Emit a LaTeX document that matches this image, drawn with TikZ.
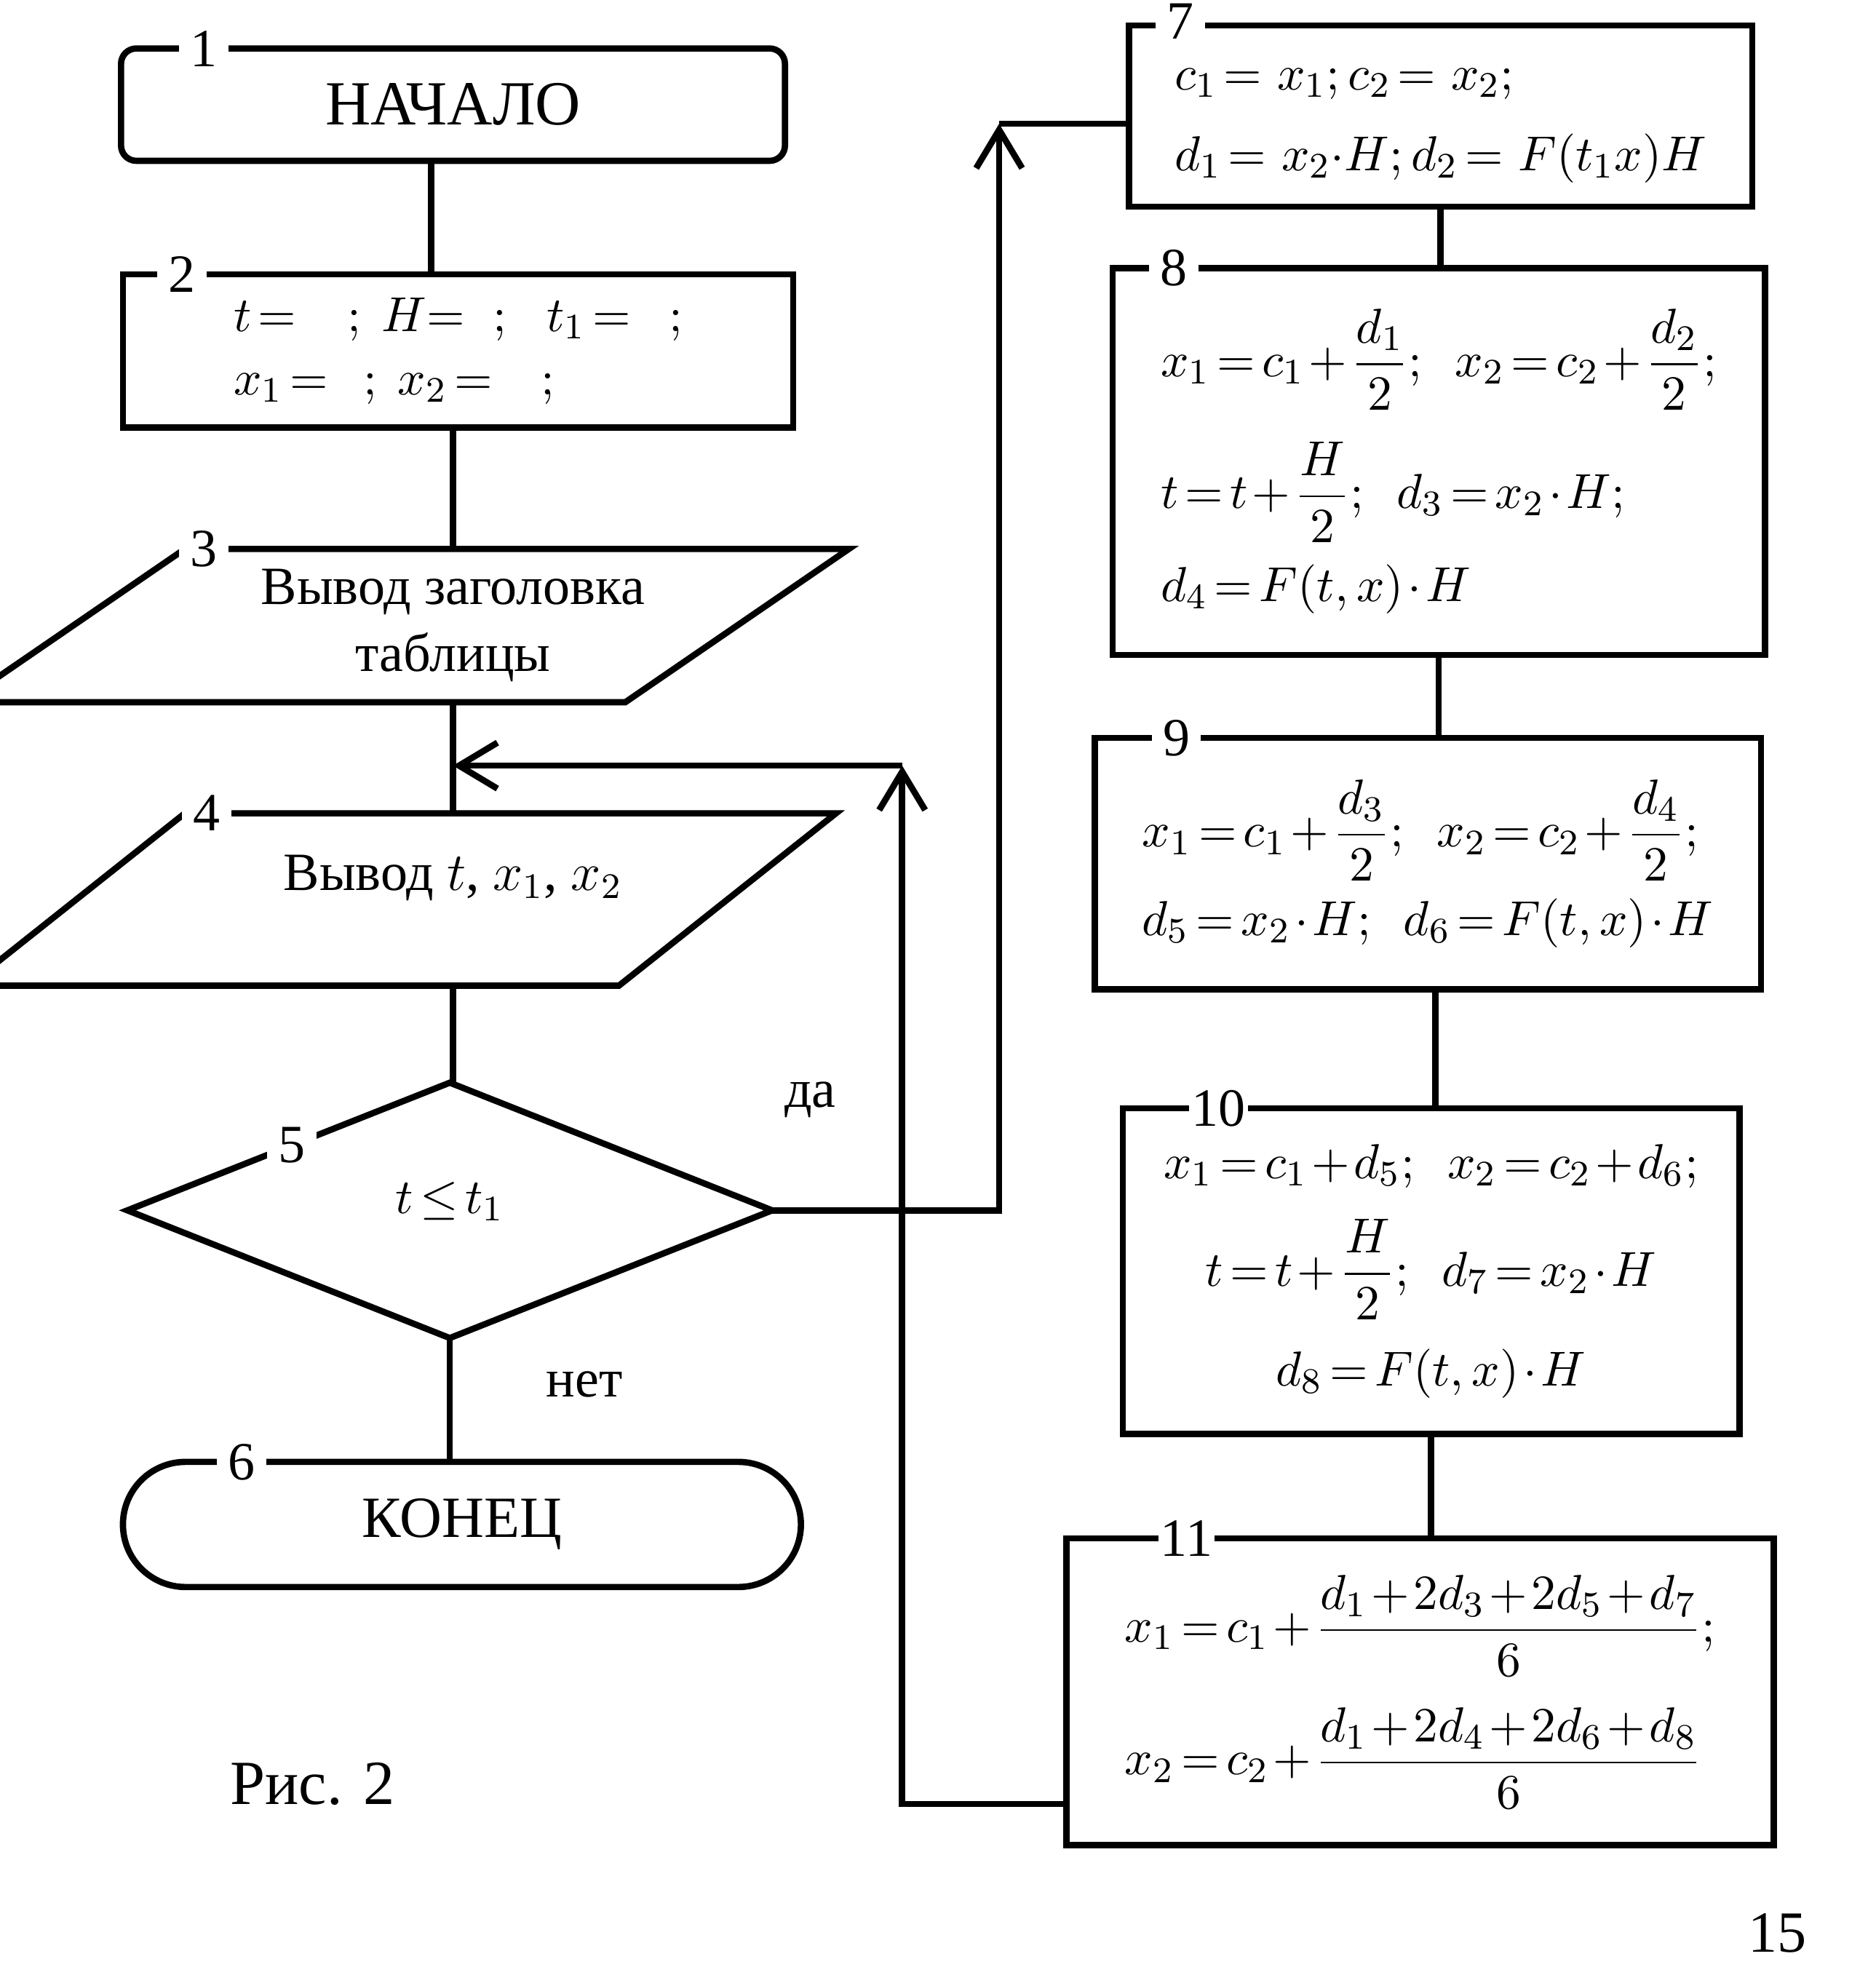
\documentclass[tikz,border=0pt]{standalone}
\usepackage{amsmath}
\usepackage{fontspec}
\setmainfont{Liberation Serif}
\usetikzlibrary{arrows.meta,positioning,shapes.geometric,calc}
\newcommand\boxfont{\fontsize{11}{13}\selectfont}
\thickmuskip=2.5mu plus 1mu
\medmuskip=1.5mu plus 1mu

\begin{document}
\begin{tikzpicture}[x=0.01cm,y=-0.01cm,line width=1.4pt,outer sep=0pt,>={Straight Barb[length=3mm,width=3.6mm]},node distance=1cm]
  \tikzstyle{proc}=[draw,rectangle,align=left,font=\boxfont]
  \tikzstyle{term}=[draw,rectangle,font=\fontsize{14}{16}\selectfont]
  \tikzstyle{io}=[rectangle,draw=none,align=center,inner sep=0pt,minimum width=1cm,font=\fontsize{12}{15}\selectfont]
  \tikzstyle{cond}=[diamond,draw,inner sep=0pt,font=\boxfont]
  \tikzstyle{num}=[fill=white,inner sep=2.5pt,font=\fontsize{12}{14}\selectfont]
  \tikzstyle{lbl}=[font=\fontsize{12}{14}\selectfont]

  \useasboundingbox (0,0) rectangle (1470,1554);
  \clip (0,0) rectangle (1470,1554);

  % left column
  \node[term,minimum width=5.2cm,minimum height=0.88cm,rounded corners=0.12cm] (b1) at (355,82) {НАЧАЛО};
  \node[proc,minimum width=5.25cm,minimum height=1.2cm,below=0.89cm of b1,xshift=0.04cm] (b2)
    {$t =\hspace{0.4cm};\ H{=}\hspace{0.22cm};\hspace{0.25cm}t_1 =\hspace{0.3cm};$\\[1pt]
     $x_1 =\hspace{0.28cm};\ x_2 =\hspace{0.38cm};$};
  \node[io,minimum height=1.2cm,below=0.95cm of b2,xshift=-0.04cm] (p3) {Вывод заголовка\\таблицы};
  \node[io,minimum height=1.35cm,below=0.87cm of p3] (p4) {\raisebox{0.42cm}{Вывод $t$, $x_1$, $x_2$}};
  \node[cond,minimum width=5.05cm,minimum height=2cm,below=0.76cm of p4,xshift=-0.025cm] (d5) {\raisebox{0.2cm}{$t\le t_1$}};
  \node[term,font=\fontsize{13}{15}\selectfont,minimum width=5.31cm,minimum height=0.98cm,rounded corners=0.49cm,below=0.97cm of d5,xshift=0.095cm] (t6) {КОНЕЦ};

  \draw ([xshift=-2.1cm]p3.north) -- ([xshift=3.1cm]p3.north) -- ([xshift=1.35cm]p3.south) -- ([xshift=-3.85cm]p3.south) -- cycle;
  \draw ([xshift=-2.1cm]p4.north) -- ([xshift=3.0cm]p4.north) -- ([xshift=1.3cm]p4.south) -- ([xshift=-3.8cm]p4.south) -- cycle;

  % right column
  \node[proc,minimum width=4.88cm,minimum height=1.42cm] (b7) at (1129,91)
    {\rule{0pt}{9pt}$c_1 =\, x_1; c_2 =\, x_2;$\\[5pt]
     $d_1 =\, x_2{\cdot}H; d_2 =\, F(t_1x)H$};
  \node[proc,minimum width=5.11cm,minimum height=3.03cm,below=0.48cm of b7,xshift=-0.015cm] (b8)
    {$x_1 = c_1 + \dfrac{d_1}{2};\ \ x_2 = c_2 + \dfrac{d_2}{2};$\\[6pt]
     $t = t + \dfrac{H}{2};\ \ d_3 = x_2\cdot H;$\\[4pt]
     $d_4 = F(t,x)\cdot H$};
  \node[proc,minimum width=5.22cm,minimum height=1.97cm,below=0.65cm of b8,xshift=-0.085cm] (b9)
    {$x_1 = c_1 + \dfrac{d_3}{2};\ \ x_2 = c_2 + \dfrac{d_4}{2};$\\[3pt]
     $d_5 = x_2\cdot H;\ \ d_6 = F(t,x)\cdot H$};
  \node[proc,align=center,minimum width=4.83cm,minimum height=2.55cm,below=0.93cm of b9,xshift=0.025cm] (b10)
    {$x_1 = c_1 + d_5;\ \ x_2 = c_2 + d_6;$\\[6pt]
     $t = t + \dfrac{H}{2};\ \ d_7 = x_2\cdot H$\\[5.5pt]
     $d_8 = F(t,x)\cdot H$};
  \node[proc,minimum width=5.54cm,minimum height=2.4cm,below=0.82cm of b10,xshift=-0.085cm] (b11)
    {$x_1 = c_1 + \dfrac{d_1+2d_3+2d_5+d_7}{6};$\\[6pt]
     $x_2 = c_2 + \dfrac{d_1+2d_4+2d_6+d_8}{6}$};

  % numbers
  \node[num] at ([xshift=0.65cm]b1.north west) {1};
  \node[num] at ([xshift=0.46cm]b2.north west) {2};
  \node[num] at ([xshift=-1.95cm]p3.north) {3};
  \node[num] at ([xshift=-1.93cm]p4.north) {4};
  \node[num] at ($(d5.west)!0.51!(d5.north)$) {5};
  \node[num] at ([xshift=0.93cm]t6.north west) {6};
  \node[num,inner ysep=1pt] at ([xshift=0.40cm,yshift=0.03cm]b7.north west) {7};
  \node[num] at ([xshift=0.48cm]b8.north west) {8};
  \node[num] at ([xshift=0.64cm]b9.north west) {9};
  \node[num,inner xsep=0.5pt] at ([xshift=0.75cm]b10.north west) {10};
  \node[num,inner xsep=0.5pt] at ([xshift=0.94cm]b11.north west) {11};

  % connectors
  \draw ([xshift=-0.17cm]b1.south) -- ([xshift=-0.17cm]b1.south |- b2.north);
  \draw (p3.north |- b2.south) -- (p3.north);
  \draw (p3.south) -- (p4.north);
  \draw (p4.south) -- (p4.south |- d5.north);
  \draw (d5.south) -- (d5.south |- t6.north);
  \draw (b7.south) -- (b7.south |- b8.north);
  \draw (b8.south) -- (b8.south |- b9.north);
  \draw ([xshift=0.06cm]b9.south) -- ([xshift=0.06cm]b9.south |- b10.north);
  \draw (b10.south) -- (b10.south |- b11.north);

  \coordinate (cy) at (783,97);
  \draw[->] (d5.east) -| (cy);
  \draw (cy) -- (cy -| b7.west);
  \coordinate (cr) at (707,600);
  \coordinate (cl) at (cr -| p4.north);
  \draw[->] ([yshift=0.32cm]b11.south west) -| (cr);
  \draw[->] (cr) -- (cl);

  \node[lbl] at (635,862) {да};
  \node[lbl] at (458,1085) {нет};
  \node[font=\fontsize{14}{16}\selectfont] at (245,1398) {Рис. 2};
  \node[font=\fontsize{13}{15}\selectfont] at (1393,1515) {15};
\end{tikzpicture}
\end{document}
